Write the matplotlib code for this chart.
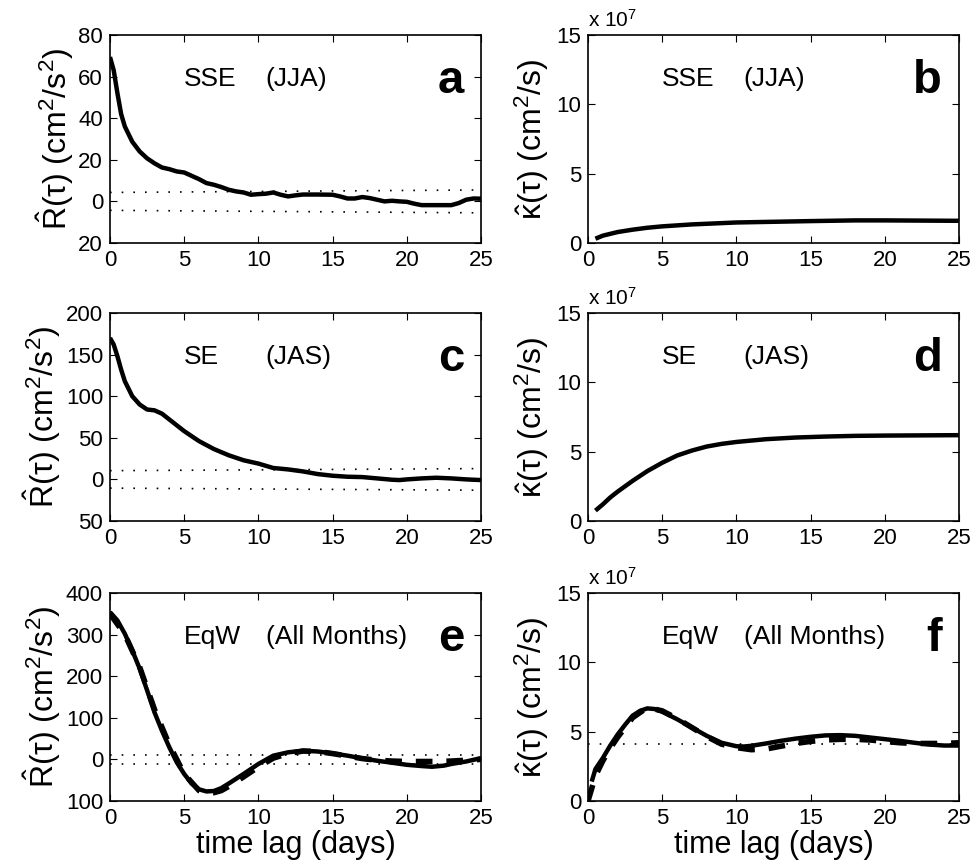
import numpy as np
import matplotlib
matplotlib.use("Agg")
import matplotlib.pyplot as plt

plt.rcParams['font.family'] = ['Liberation Sans', 'DejaVu Sans']
plt.rcParams['mathtext.fontset'] = 'custom'
plt.rcParams['mathtext.rm'] = 'Liberation Sans'
plt.rcParams['mathtext.it'] = 'Liberation Sans:italic'
plt.rcParams['mathtext.bf'] = 'Liberation Sans:bold'
plt.rcParams['mathtext.default'] = 'regular'

# ---- data ----
# a: SSE (JJA) autocovariance
lag_a = [0, 0.25, 0.5, 0.75, 1, 1.5, 2, 2.5, 3, 3.5, 4, 4.5, 5, 5.5, 6, 6.5, 7, 7.5, 8, 8.5,
         9, 9.5, 10, 10.5, 11, 11.5, 12, 12.5, 13, 14, 15, 15.5, 16, 16.5, 17, 17.5, 18, 18.5,
         19, 19.5, 20, 20.5, 21, 22, 23, 23.5, 24, 24.5, 25]
R_a = [69.4, 63, 52, 42, 36, 28.7, 24, 20.7, 18.3, 16.3, 15.5, 14.4, 13.9, 12.3, 10.7, 8.8, 8, 6.9,
       5.6, 4.8, 4.3, 3.2, 3.5, 3.7, 4.3, 3.2, 2.4, 2.9, 3.3, 3.3, 3.2, 2.4, 1.4, 1.4, 2.1, 1.6,
       0.8, 0.0, 0.3, 0.0, -0.2, -1.1, -1.8, -1.8, -1.8, -0.8, 0.8, 1.4, 1.3]
band_a = [4.3, 5.5]

# c: SE (JAS) autocovariance
lag_c = [0, 0.25, 0.5, 0.75, 1, 1.5, 2, 2.5, 3, 3.5, 4, 4.5, 5, 6, 7, 8, 9, 10, 11, 12, 13, 14,
         15, 16, 17, 18, 19, 19.5, 20, 21, 22, 23, 24, 25]
R_c = [170, 162, 148, 132, 118, 100, 90, 84, 83, 79, 72, 65, 58, 46, 36.5, 29, 23, 19, 13.7, 12,
       9.6, 6.4, 4.4, 3.2, 2.8, 1.2, -0.4, -0.8, 0, 1.2, 2, 1.2, 0, -0.8]
band_c = [10.5, 13]

# e: EqW (All Months) autocovariance, solid = data, dashed = fit
lag_e = [0, 0.5, 1, 1.5, 2, 2.5, 3, 3.5, 4, 4.5, 5, 5.5, 6, 6.5, 7, 7.5, 8, 9, 10, 11, 12, 13,
         14, 15, 16, 17, 18, 19, 20, 21, 21.7, 22.5, 23, 24, 25]
R_e = [354, 334, 302, 262, 218, 166, 113, 69, 29, -7, -35, -58, -72, -77, -76, -69, -58, -35,
       -11, 9, 17, 21, 19, 14.5, 9, 2.4, -3.2, -8, -13, -16, -17.7, -15, -11, -5, 3]
lag_e_fit = [0, 1, 2, 3, 4, 5, 6, 6.5, 7, 7.5, 8, 9, 10, 11, 12, 13, 14, 15, 16, 17, 18, 19,
             20, 21, 22, 23, 24, 25]
R_e_fit = [350, 300, 222, 120, 35, -35, -75, -80, -80, -75, -65, -42, -18, 3, 14, 20, 19, 14,
           8, 2, -2, -4, -5, -5, -5, -4, -2, 0]
band_e = [11, 11]

# b, d, f: diffusivity in units of 1e7 cm^2/s
lag_b = [0.5, 1, 2, 3, 4, 5, 7, 10, 15, 18, 20, 25]
K_b = [0.31, 0.53, 0.79, 0.96, 1.1, 1.2, 1.34, 1.48, 1.58, 1.63, 1.63, 1.6]

lag_d = [0.5, 1, 1.5, 2, 3, 4, 5, 6, 7, 8, 9, 10, 12, 14, 16, 18, 20, 25]
K_d = [0.75, 1.2, 1.7, 2.12, 2.89, 3.6, 4.2, 4.72, 5.08, 5.37, 5.56, 5.7, 5.9, 6.02, 6.09,
       6.14, 6.16, 6.19]

lag_f = [0.25, 0.5, 1, 1.5, 2, 2.5, 3, 3.5, 4, 4.5, 5, 6, 7, 8, 9, 10, 10.5, 11, 12, 13, 14,
         15, 16, 17, 18, 19, 20, 21, 22, 23, 24, 25]
K_f = [1.4, 2.3, 3.1, 4.0, 4.8, 5.5, 6.15, 6.5, 6.68, 6.63, 6.44, 5.9, 5.3, 4.7, 4.2, 3.95,
       3.93, 3.98, 4.15, 4.34, 4.5, 4.63, 4.73, 4.75, 4.7, 4.58, 4.46, 4.34, 4.2, 4.07, 4.0, 4.0]
lag_f_fit = [0, 0.25, 0.5, 1, 1.5, 2, 3, 4, 5, 6, 7, 8, 9, 10, 11, 12, 13, 14, 15, 16, 17, 18,
             19, 20, 21, 22, 23, 24, 25]
K_f_fit = [0, 0.9, 1.8, 2.9, 3.8, 4.6, 6.0, 6.75, 6.5, 5.95, 5.3, 4.65, 4.1, 3.85, 3.7, 3.75,
           3.95, 4.15, 4.3, 4.4, 4.45, 4.45, 4.4, 4.3, 4.2, 4.15, 4.15, 4.15, 4.2]
K_f_level = 4.1

# axis ticks (labels as printed, minus signs lost in the original)
xticks = [0, 5, 10, 15, 20, 25]
yticks_a = [-20, 0, 20, 40, 60, 80]
ylabels_a = ['20', '0', '20', '40', '60', '80']
yticks_c = [-50, 0, 50, 100, 150, 200]
ylabels_c = ['50', '0', '50', '100', '150', '200']
yticks_e = [-100, 0, 100, 200, 300, 400]
ylabels_e = ['100', '0', '100', '200', '300', '400']
yticks_k = [0, 5, 10, 15]

regions = ['SSE', 'SE', 'EqW']
periods = ['(JJA)', '(JAS)', '(All Months)']
letters_left = ['a', 'c', 'e']
letters_right = ['b', 'd', 'f']

# ---- figure ----
fig = plt.figure(figsize=(9.74, 8.67), dpi=100)
W, H = 974.0, 867.0
rows_top = [35, 313, 593]
ax_h = 208
lefts = [110, 588]
ax_w = 371

R_lbl = r'$\hat{R}(\tau)$ (cm$^2$/s$^2$)'
K_lbl = r'$\hat{\kappa}(\tau)$ (cm$^2$/s)'
dots = (0, (1, 6))

def style(ax):
    ax.set_xlim(0, 25)
    ax.set_xticks(xticks)
    ax.tick_params(direction='in', top=True, right=True, labelsize=16, length=5,
                   width=0.8, pad=5)
    for s in ax.spines.values():
        s.set_linewidth(1.2)

def labels(ax, i, letter):
    ax.text(5, 0.755, regions[i], transform=ax.get_xaxis_transform(), fontsize=19,
            va='baseline', ha='left')
    ax.text(10.5, 0.755, periods[i], transform=ax.get_xaxis_transform(), fontsize=19,
            va='baseline', ha='left')
    ax.text(0.955, 0.72, letter, transform=ax.transAxes, fontsize=34,
            fontweight='bold', va='baseline', ha='right')
    if i == 2:
        ax.set_xlabel('time lag (days)', fontsize=22, labelpad=1)

left_data = [(lag_a, R_a, None, None, band_a, yticks_a, ylabels_a),
             (lag_c, R_c, None, None, band_c, yticks_c, ylabels_c),
             (lag_e, R_e, lag_e_fit, R_e_fit, band_e, yticks_e, ylabels_e)]
right_data = [(lag_b, K_b, None, None), (lag_d, K_d, None, None),
              (lag_f, K_f, lag_f_fit, K_f_fit)]

for i in range(3):
    bottom = 1 - (rows_top[i] + ax_h) / H
    # left column: autocovariance
    ax = fig.add_axes([lefts[0] / W, bottom, ax_w / W, ax_h / H])
    lag, R, lagf, Rf, band, yt, yl = left_data[i]
    ax.plot([0, 25], [band[0], band[1]], color='k', ls=dots, lw=1.2)
    ax.plot([0, 25], [-band[0], -band[1]], color='k', ls=dots, lw=1.2)
    if lagf is not None:
        ax.plot(lagf, Rf, color='k', lw=4.0, ls=(0, (3, 2.5)))
    ax.plot(lag, R, color='k', lw=3.2, solid_capstyle='butt')
    ax.set_ylim(yt[0], yt[-1])
    ax.set_yticks(yt)
    ax.set_yticklabels(yl)
    style(ax)
    ax.set_ylabel(R_lbl, fontsize=23, labelpad=2)
    labels(ax, i, letters_left[i])

    # right column: diffusivity
    ax = fig.add_axes([lefts[1] / W, bottom, ax_w / W, ax_h / H])
    lag, K, lagf, Kf = right_data[i]
    if lagf is not None:
        ax.plot([0, 25], [K_f_level, K_f_level], color='k', ls=dots, lw=1.2)
        ax.plot(lagf, Kf, color='k', lw=4.0, ls=(0, (3, 2.5)))
    ax.plot(lag, K, color='k', lw=3.2, solid_capstyle='butt')
    ax.set_ylim(0, 15)
    ax.set_yticks(yticks_k)
    style(ax)
    ax.set_ylabel(K_lbl, fontsize=23, labelpad=4)
    ax.text(0, 1.02, r'x 10$^7$', transform=ax.transAxes, fontsize=15,
            va='bottom', ha='left')
    labels(ax, i, letters_right[i])

fig.savefig('out.png', dpi=100)
